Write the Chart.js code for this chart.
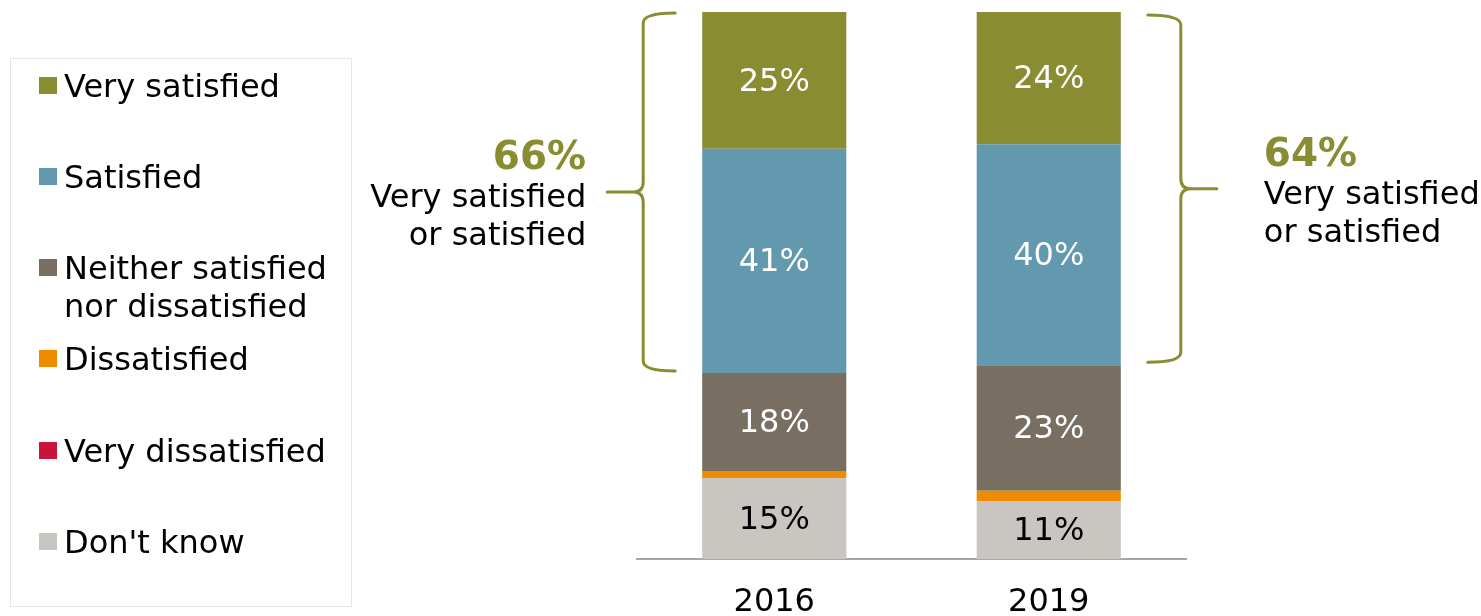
<!DOCTYPE html>
<html>
<head>
<meta charset="utf-8">
<script src="https://cdn.jsdelivr.net/npm/chart.js@4/dist/chart.umd.min.js"></script>
<style>
  body { margin: 0; background: #fff; }
  #wrap { position: relative; width: 1481px; height: 616px; }
</style>
</head>
<body>
<div id="wrap"><canvas id="satChart" width="1481" height="616"></canvas></div>
<script>
// Survey years on the x axis
const years = ["2016", "2019"];

// Answer categories, bottom of the stack first
const categories = [
  "Don't know",
  "Very dissatisfied",
  "Dissatisfied",
  ["Neither satisfied", "nor dissatisfied"],
  "Satisfied",
  "Very satisfied",
];

// Shares in % per year, same order as categories (labels show rounded values)
const dontKnow = [14.8, 10.6];
const veryDissatisfied = [0, 0];
const dissatisfied = [1.3, 1.9];
const neither = [17.9, 22.9];
const satisfied = [41.0, 40.4];
const verySatisfied = [25.0, 24.2];

const colors = ["#c9c5c0", "#c8133a", "#ee8b00", "#786f62", "#6399af", "#898c31"];
const labelColors = ["#000", "#fff", "#fff", "#fff", "#fff", "#fff"];

const FONT = "'DejaVu Sans', Verdana, sans-serif";
const OLIVE = "#898c31";

const seriesValues = [dontKnow, veryDissatisfied, dissatisfied, neither, satisfied, verySatisfied];

// Draw a curly brace, tip pointing left (dir = -1) or right (dir = 1)
function drawBrace(ctx, x, yTop, yBot, dir, arm, tip) {
  const r = 10;
  const yMid = (yTop + yBot) / 2;
  const armX = x - dir * arm;
  ctx.beginPath();
  ctx.moveTo(armX, yTop);
  ctx.quadraticCurveTo(x, yTop, x, yTop + r);
  ctx.lineTo(x, yMid - r);
  ctx.quadraticCurveTo(x, yMid, x + dir * r, yMid);
  ctx.lineTo(x + dir * tip, yMid);
  ctx.moveTo(x + dir * r, yMid);
  ctx.quadraticCurveTo(x, yMid, x, yMid + r);
  ctx.lineTo(x, yBot - r);
  ctx.quadraticCurveTo(x, yBot, armX, yBot);
  ctx.stroke();
  return yMid;
}

// Segment labels, braces with totals and the boxed legend
const extrasPlugin = {
  id: "extras",
  afterDatasetsDraw(chart) {
    const ctx = chart.ctx;
    const yScale = chart.scales.y;

    // percentages inside the bars
    ctx.save();
    ctx.font = "32px " + FONT;
    ctx.textAlign = "center";
    ctx.textBaseline = "middle";
    chart.data.datasets.forEach((ds, i) => {
      const meta = chart.getDatasetMeta(i);
      meta.data.forEach((bar, j) => {
        const v = ds.data[j];
        if (v < 5) return;
        const yc = (bar.y + bar.base) / 2;
        ctx.fillStyle = labelColors[i];
        ctx.fillText(Math.round(v) + "%", bar.x, yc + 2);
      });
    });
    ctx.restore();

    // braces around "very satisfied or satisfied"
    ctx.save();
    ctx.strokeStyle = OLIVE;
    ctx.lineWidth = 3;
    ctx.lineCap = "round";
    const yTop = yScale.getPixelForValue(100);
    years.forEach((yr, j) => {
      const total = Math.round(satisfied[j]) + Math.round(verySatisfied[j]);
      const yBot = yScale.getPixelForValue(100 - satisfied[j] - verySatisfied[j]);
      const bar = chart.getDatasetMeta(5).data[j];
      const half = bar.width / 2;
      let yMid, tx, align;
      if (j === 0) {
        yMid = drawBrace(ctx, bar.x - half - 59, yTop + 1, yBot - 2, -1, 32, 36);
        tx = bar.x - half - 116;
        align = "right";
      } else {
        yMid = drawBrace(ctx, bar.x + half + 60, yTop + 3, yBot - 3, 1, 33, 36);
        tx = bar.x + half + 143;
        align = "left";
      }
      ctx.textAlign = align;
      ctx.textBaseline = "middle";
      ctx.fillStyle = OLIVE;
      ctx.font = "bold 39px " + FONT;
      ctx.fillText(total + "%", tx, yMid - 33);
      ctx.fillStyle = "#000";
      ctx.font = "32px " + FONT;
      ctx.fillText("Very satisfied", tx, yMid + 7);
      ctx.fillText("or satisfied", tx, yMid + 45);
    });
    ctx.restore();

    // legend box, top category first
    ctx.save();
    ctx.strokeStyle = "#e6e6e6";
    ctx.lineWidth = 1;
    ctx.strokeRect(10.5, 58.5, 341, 548);
    ctx.font = "32px " + FONT;
    ctx.textAlign = "left";
    ctx.textBaseline = "middle";
    const rows = [86, 177, 268, 359, 451, 542];
    for (let k = 0; k < 6; k++) {
      const idx = 5 - k;
      const y = rows[k];
      ctx.fillStyle = colors[idx];
      ctx.fillRect(39, y - 9, 18, 17);
      ctx.fillStyle = "#000";
      const lab = categories[idx];
      if (Array.isArray(lab)) {
        lab.forEach((line, n) => ctx.fillText(line, 64, y + 3 + n * 38));
      } else {
        ctx.fillText(lab, 64, y + 3);
      }
    }
    ctx.restore();
  },
};

const ctx = document.getElementById("satChart").getContext("2d");
const satChart = new Chart(ctx, {
  type: "bar",
  data: {
    labels: years,
    datasets: categories.map((cat, i) => ({
      label: Array.isArray(cat) ? cat.join(" ") : cat,
      data: seriesValues[i],
      backgroundColor: colors[i],
      borderWidth: 0,
      barPercentage: 0.525,
      categoryPercentage: 1,
    })),
  },
  options: {
    responsive: false,
    animation: false,
    events: [],
    layout: { padding: { left: 637, right: 295, top: 12, bottom: 0 } },
    plugins: { legend: { display: false }, tooltip: { enabled: false } },
    scales: {
      x: {
        stacked: true,
        grid: { display: false, drawTicks: false },
        border: { display: true, color: "#a6a6a6", width: 2 },
        ticks: { color: "#000", font: { family: FONT, size: 32 }, padding: 24, maxRotation: 0 },
        afterFit(scale) {
          scale.height = 57;
        },
      },
      y: {
        stacked: true,
        display: false,
        min: 0,
        max: 100,
      },
    },
  },
  plugins: [extrasPlugin],
});
</script>
</body>
</html>
